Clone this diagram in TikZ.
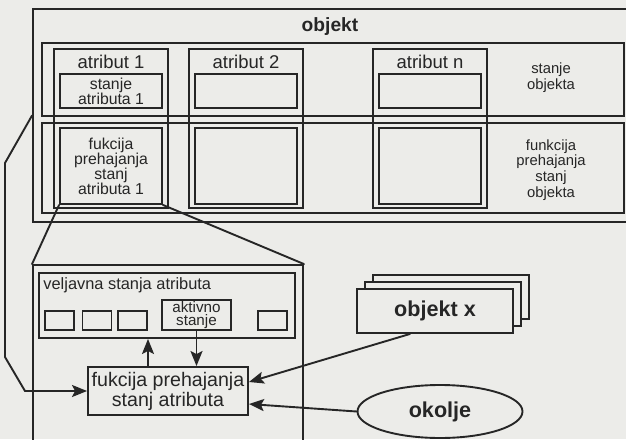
\documentclass[tikz,border=0pt]{standalone}
\usepackage{fontspec}
\setmainfont{Liberation Sans}
\usetikzlibrary{arrows.meta,shapes.geometric}
\definecolor{paper}{RGB}{236,236,233}
\definecolor{ink}{RGB}{38,38,38}

\begin{document}
\begin{tikzpicture}[x=0.5pt,y=-0.5pt,line cap=round,
  box/.style={draw=ink,line width=0.95pt,inner sep=0pt,rectangle},
  txt/.style={text=ink,inner sep=0pt,align=center},
  arr/.style={draw=ink,line width=0.95pt,-{Stealth[length=7.5pt,width=6pt,inset=1.5pt]}}]
\useasboundingbox (0,0) rectangle (626,439);
\fill[paper] (0,0) rectangle (626,439);
\clip (0,0) rectangle (626,439);
\node[box,minimum width=303.5pt,minimum height=106.5pt] (obj) at (336.5,115.5) {};
\node[txt,font=\bfseries\fontsize{9.6}{10}\selectfont] (objname) at (330,27) {objekt};
\node[box,minimum width=291pt,minimum height=36.5pt] (stobj) at (333,79.5) {};
\node[box,minimum width=291pt,minimum height=45pt] (fpobj) at (333,168) {};
\node[box,minimum width=57pt,minimum height=79.5pt] (atr1) at (111,128.5) {};
\node[box,minimum width=57pt,minimum height=79.5pt] (atr2) at (246,128.5) {};
\node[box,minimum width=57pt,minimum height=79.5pt] (atrn) at (430,128.5) {};
\node[box,minimum width=51pt,minimum height=17pt,txt,font=\fontsize{7.9}{7.4}\selectfont] (sa1) at (111,91) {stanje\\atributa 1};
\node[box,minimum width=51pt,minimum height=17pt] (sa2) at (246,91) {};
\node[box,minimum width=51pt,minimum height=17pt] (san) at (430,91) {};
\node[box,minimum width=51pt,minimum height=38pt,txt,font=\fontsize{7.9}{7.5}\selectfont] (fa1) at (111,166) {fukcija\\prehajanja\\stanj\\atributa 1};
\node[box,minimum width=51pt,minimum height=38pt] (fa2) at (246,166) {};
\node[box,minimum width=51pt,minimum height=38pt] (fan) at (430,166) {};
\node[txt,font=\fontsize{9.25}{10}\selectfont] (an1) at (111,62) {atribut 1};
\node[txt,font=\fontsize{9.25}{10}\selectfont] (an2) at (246,62) {atribut 2};
\node[txt,font=\fontsize{9.25}{10}\selectfont] (ann) at (430,62) {atribut n};
\node[txt,font=\fontsize{7.4}{6.5}\selectfont] (lstobj) at (551,78) {stanje\\objekta};
\node[txt,font=\fontsize{7.4}{6.5}\selectfont] (lfpobj) at (551,170) {funkcija\\prehajanja\\stanj\\objekta};
\node[box,minimum width=135pt,minimum height=97.5pt] (zoom) at (168,362.5) {};
\node[box,minimum width=128pt,minimum height=32.5pt] (veljavna) at (167,305.5) {};
\node[txt,anchor=west,font=\fontsize{8.2}{9}\selectfont] (lveljavna) at (43,285) {veljavna stanja atributa};
\node[box,minimum width=14.5pt,minimum height=9.5pt] (s1) at (59.5,320.5) {};
\node[box,minimum width=14.5pt,minimum height=9.5pt] (s2) at (97,320.5) {};
\node[box,minimum width=14.5pt,minimum height=9.5pt] (s3) at (132.5,320.5) {};
\node[box,minimum width=14.5pt,minimum height=9.5pt] (s5) at (272.5,320.5) {};
\node[box,minimum width=34.5pt,minimum height=15pt,txt,font=\fontsize{7.6}{6.2}\selectfont] (aktivno) at (196.5,315) {aktivno\\stanje};
\node[box,minimum width=80pt,minimum height=24pt,txt,font=\fontsize{9.8}{10}\selectfont] (fpsa) at (168,391) {fukcija prehajanja\\stanj atributa};
\node[box,fill=paper,minimum width=78pt,minimum height=22pt] (objx3) at (451,297) {};
\node[box,fill=paper,minimum width=78pt,minimum height=22pt] (objx2) at (443,304) {};
\node[box,fill=paper,minimum width=78pt,minimum height=22pt,txt,font=\bfseries\fontsize{10.8}{12}\selectfont] (objx) at (435,311) {objekt x};
\node[draw=ink,line width=0.95pt,ellipse,inner sep=0pt,minimum width=82.5pt,minimum height=26.5pt,txt,font=\bfseries\fontsize{10.8}{12}\selectfont] (okolje) at (440,411.5) {okolje};
\draw[draw=ink,line width=0.95pt] (fa1.south west) -- (zoom.north west);
\draw[draw=ink,line width=0.95pt] (fa1.south east) -- (zoom.north east);
\draw[arr] (obj.west) -- (5,163) -- (5,357) -- (25,391) -- (fpsa.west);
\draw[arr] ([xshift=-10pt]fpsa.north) -- ([xshift=-10pt]fpsa.north |- veljavna.south);
\draw[arr] (aktivno.south) -- (aktivno.south |- fpsa.north);
\draw[arr] ([xshift=-12.5pt]objx.south) -- ([yshift=4.5pt]fpsa.east);
\draw[arr] (okolje.west) -- ([yshift=-6.5pt]fpsa.east);
\end{tikzpicture}
\end{document}
